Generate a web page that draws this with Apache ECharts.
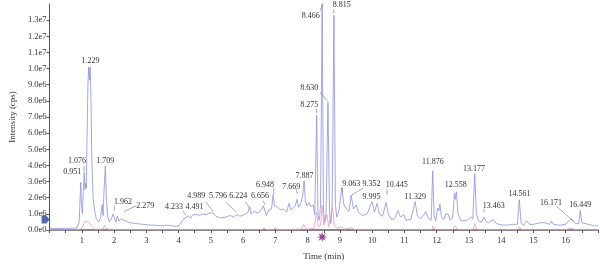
<!DOCTYPE html>
<html>
<head>
<meta charset="utf-8">
<script src="https://cdn.jsdelivr.net/npm/echarts@6/dist/echarts.min.js"></script>
<style>
  html, body { margin: 0; padding: 0; background: #fff; }
  #chart { width: 600px; height: 266px; }
</style>
</head>
<body>
<div id="chart"></div>
<script>
// Blue trace (TIC), time in min, intensity in 1e6 cps
const blueTime = [0, 0.5, 0.85, 0.92, 0.966, 0.99, 1.02, 1.045, 1.076, 1.1, 1.12, 1.14, 1.16, 1.19, 1.21, 1.235, 1.26, 1.285, 1.31, 1.35, 1.4, 1.45, 1.52, 1.58, 1.63, 1.66, 1.69, 1.73, 1.76, 1.8, 1.85, 1.92, 1.97, 2.0, 2.05, 2.1, 2.15, 2.23, 2.3, 2.5, 2.75, 3.0, 3.15, 3.2, 3.25, 3.5, 3.65, 3.7, 3.95, 4.05, 4.12, 4.2, 4.25, 4.3, 4.38, 4.45, 4.5, 4.58, 4.65, 4.75, 4.85, 4.95, 5.0, 5.07, 5.15, 5.3, 5.45, 5.6, 5.7, 5.8, 5.9, 6.05, 6.15, 6.2, 6.25, 6.35, 6.45, 6.55, 6.62, 6.66, 6.72, 6.8, 6.88, 6.93, 6.97, 7.05, 7.15, 7.25, 7.35, 7.42, 7.48, 7.55, 7.62, 7.67, 7.72, 7.8, 7.85, 7.89, 7.93, 7.98, 8.05, 8.1, 8.17, 8.22, 8.28, 8.32, 8.36, 8.4, 8.45, 8.49, 8.53, 8.57, 8.63, 8.68, 8.72, 8.76, 8.815, 8.86, 8.9, 8.97, 9.06, 9.12, 9.2, 9.28, 9.35, 9.42, 9.5, 9.58, 9.7, 9.85, 9.95, 10.0, 10.07, 10.15, 10.22, 10.32, 10.43, 10.5, 10.6, 10.7, 10.8, 10.88, 10.98, 11.05, 11.2, 11.33, 11.4, 11.5, 11.6, 11.66, 11.75, 11.83, 11.876, 11.92, 11.97, 12.03, 12.07, 12.1, 12.15, 12.22, 12.28, 12.35, 12.42, 12.5, 12.55, 12.58, 12.61, 12.66, 12.75, 12.85, 12.95, 13.05, 13.12, 13.18, 13.23, 13.3, 13.4, 13.46, 13.52, 13.6, 13.75, 13.85, 14.0, 14.2, 14.35, 14.5, 14.56, 14.62, 14.7, 14.8, 14.88, 15.0, 15.2, 15.35, 15.5, 15.56, 15.62, 15.8, 16.0, 16.1, 16.2, 16.3, 16.4, 16.45, 16.5, 16.7, 16.9, 17.0];
const blueValue = [0.1, 0.1, 0.12, 0.5, 2.95, 1.6, 1.0, 2.4, 3.55, 2.5, 2.9, 2.6, 5.5, 9.0, 10.1, 9.3, 10.1, 8.0, 4.5, 2.0, 1.15, 0.7, 0.5, 0.7, 1.57, 0.9, 2.5, 3.97, 2.0, 0.9, 0.5, 0.7, 1.0, 0.95, 0.5, 0.85, 0.55, 0.7, 0.6, 0.45, 0.38, 0.33, 0.3, 0.4, 0.3, 0.26, 0.3, 0.25, 0.22, 0.35, 0.6, 0.75, 0.65, 0.85, 0.75, 0.95, 0.85, 0.95, 0.9, 1.0, 0.95, 1.05, 0.95, 1.05, 0.85, 0.75, 0.8, 0.9, 0.8, 0.95, 0.85, 0.95, 1.1, 1.45, 1.0, 1.15, 1.05, 1.2, 1.5, 1.3, 0.9, 1.25, 1.3, 2.2, 1.5, 1.45, 1.25, 1.3, 1.1, 1.65, 1.25, 1.35, 1.5, 1.9, 1.4, 1.7, 2.2, 3.05, 1.8, 1.5, 1.7, 1.45, 1.55, 0.95, 7.1, 0.9, 0.6, 1.5, 14.0, 1.2, 0.5, 1.0, 7.9, 1.0, 0.4, 1.5, 13.3, 1.6, 0.8, 1.2, 2.65, 1.6, 1.3, 1.15, 2.17, 1.3, 1.55, 1.1, 0.9, 1.0, 1.55, 1.75, 1.1, 1.65, 1.0, 0.85, 1.7, 1.0, 0.65, 0.7, 1.2, 0.8, 0.95, 0.6, 0.65, 1.75, 0.9, 0.7, 0.95, 1.15, 0.7, 0.6, 3.67, 0.9, 0.55, 1.35, 1.2, 1.6, 0.8, 0.65, 1.0, 1.0, 0.6, 0.8, 2.27, 1.9, 2.37, 1.0, 0.56, 0.6, 0.6, 0.8, 0.7, 3.47, 1.0, 0.55, 0.5, 0.8, 0.55, 0.45, 0.66, 0.4, 0.32, 0.3, 0.35, 0.35, 1.87, 0.4, 0.3, 0.56, 0.35, 0.35, 0.45, 0.45, 0.35, 0.55, 0.35, 0.3, 0.35, 0.6, 0.66, 0.4, 0.4, 1.2, 0.45, 0.35, 0.25, 0.25];

// Pink trace
const pinkTime = [0, 0.9, 1.0, 1.1, 1.15, 1.2, 1.25, 1.32, 1.4, 1.65, 1.7, 1.75, 1.85, 6.6, 6.65, 6.7, 6.95, 7.0, 7.05, 7.8, 7.88, 7.95, 8.2, 8.28, 8.33, 8.4, 8.45, 8.5, 8.55, 8.6, 8.65, 8.7, 8.77, 8.83, 8.9, 9.06, 9.15, 9.35, 9.45, 11.85, 11.88, 11.95, 12.5, 12.57, 12.65, 13.12, 13.18, 13.25, 14.5, 14.56, 14.62, 16.0, 16.15, 16.3, 17.0];
const pinkValue = [0.02, 0.02, 0.1, 0.55, 0.6, 0.5, 0.6, 0.2, 0.05, 0.05, 0.3, 0.1, 0.02, 0.02, 0.15, 0.02, 0.02, 0.15, 0.02, 0.05, 0.35, 0.05, 0.1, 1.1, 0.2, 0.3, 1.55, 0.3, 0.2, 0.95, 0.2, 0.3, 1.4, 0.3, 0.1, 0.2, 0.05, 0.15, 0.02, 0.02, 0.25, 0.02, 0.02, 0.25, 0.02, 0.02, 0.4, 0.02, 0.02, 0.2, 0.02, 0.02, 0.12, 0.02, 0.02];

// Peak annotations: text, label centre (time, 1e6), leader line [t1, v1, t2, v2] or null
const peakText = ['0.951', '1.076', '1.229', '1.709', '1.962', '2.279', '4.233', '4.491', '4.989', '5.796', '6.224', '6.656', '6.948', '7.669', '7.887', '8.275', '8.466', '8.630', '8.815', '9.063', '9.352', '9.995', '10.445', '11.329', '11.876', '12.558', '13.177', '13.463', '14.561', '16.171', '16.449'];
const labelTime = [0.70, 0.85, 1.27, 1.73, 2.28, 2.97, 3.86, 4.49, 4.55, 5.22, 5.85, 6.52, 6.68, 7.49, 7.90, 8.05, 8.10, 8.05, 9.06, 9.35, 9.98, 9.98, 10.76, 11.33, 11.88, 12.59, 13.16, 13.77, 14.57, 15.54, 16.45];
const labelValue = [3.61, 4.28, 10.48, 4.28, 1.75, 1.51, 1.40, 1.46, 2.11, 2.11, 2.11, 2.13, 2.81, 2.67, 3.37, 7.77, 13.25, 8.80, 13.92, 2.83, 2.83, 2.03, 2.77, 2.07, 4.23, 2.81, 3.81, 1.51, 2.21, 1.70, 1.57];
const leaders = [
  null, [1.07, 3.98, 1.07, 3.61], null, null,
  [2.01, 1.51, 2.01, 1.2], [2.31, 1.13, 2.69, 1.51], [4.12, 1.2, 4.24, 0.9], null,
  [4.85, 1.73, 5.07, 1.13], [5.46, 1.73, 5.81, 1.07], [6.07, 1.75, 6.22, 1.33], [6.62, 1.81, 6.68, 1.57],
  [6.95, 2.59, 6.95, 2.23], [7.65, 2.53, 7.68, 2.23], null, [8.28, 7.53, 8.28, 7.23],
  [8.38, 13.57, 8.48, 14.02], [8.38, 8.55, 8.63, 7.95], [8.81, 13.67, 8.81, 13.43], [9.08, 2.59, 9.08, 2.35],
  [9.73, 2.61, 9.37, 2.17], null, [10.46, 2.53, 10.46, 2.17], null,
  null, null, null, [13.47, 1.33, 13.47, 1.08],
  null, [15.72, 1.46, 16.25, 0.52], null
];

const M = 1e6;
const blueData = blueTime.map((t, i) => [t, blueValue[i] * M]);
const pinkData = pinkTime.map((t, i) => [t, pinkValue[i] * M]);
const labelData = labelTime.map((t, i) => [t, labelValue[i] * M, i]);

// 8-armed asterisk path for the marker under the axis
let star = '';
for (let k = 0; k < 16; k++) {
  const r = k % 2 === 0 ? 10 : 4;
  const a = (k * Math.PI) / 8 - Math.PI / 2;
  star += (k === 0 ? 'M' : 'L') + (r * Math.cos(a)).toFixed(2) + ' ' + (r * Math.sin(a)).toFixed(2) + ' ';
}
star += 'Z';

const font = '"Liberation Serif", "DejaVu Serif", serif';
const chart = echarts.init(document.getElementById('chart'));

const option = {
  animation: false,
  backgroundColor: '#fff',
  grid: { left: 41, right: 2, top: 4, bottom: 30 },
  xAxis: {
    type: 'value',
    min: 0,
    max: 17,
    interval: 1,
    name: 'Time (min)',
    nameLocation: 'middle',
    nameGap: 22,
    nameTextStyle: { fontFamily: font, fontSize: 9, color: '#333' },
    axisLine: { lineStyle: { color: '#6a5866', width: 1.5 } },
    axisTick: { length: 3, lineStyle: { color: '#555' } },
    minorTick: { show: true, splitNumber: 2, length: 3, lineStyle: { color: '#555' } },
    axisLabel: { showMinLabel: false, showMaxLabel: false, margin: 6, fontFamily: font, fontSize: 8.5, color: '#333' },
    splitLine: { show: false }
  },
  yAxis: {
    type: 'value',
    min: 0,
    max: 14 * M,
    interval: M,
    name: 'Intensity (cps)',
    nameLocation: 'middle',
    nameGap: 32,
    nameTextStyle: { fontFamily: font, fontSize: 9, color: '#333' },
    axisLine: { show: true, lineStyle: { color: '#555' } },
    axisTick: { show: true, length: 3, lineStyle: { color: '#555' } },
    axisLabel: {
      showMaxLabel: false,
      margin: 3,
      fontFamily: font,
      fontSize: 8.5,
      color: '#333',
      formatter: (v) => {
        if (v === 0) return '0.0e0';
        const e = Math.floor(Math.log10(v) + 1e-9);
        return (v / Math.pow(10, e)).toFixed(1) + 'e' + e;
      }
    },
    splitLine: { show: false }
  },
  series: [
    {
      name: 'TIC',
      type: 'line',
      data: blueData,
      showSymbol: false,
      lineStyle: { color: '#8c90e0', width: 0.8 },
      z: 2
    },
    {
      name: 'pink',
      type: 'line',
      data: pinkData,
      showSymbol: false,
      lineStyle: { color: '#ee9ab5', width: 0.8 },
      z: 3
    },
    {
      name: 'labels',
      type: 'custom',
      clip: false,
      data: labelData,
      z: 5,
      renderItem: (params, api) => {
        const i = api.value(2);
        const p = api.coord([api.value(0), api.value(1)]);
        const children = [{
          type: 'text',
          x: p[0],
          y: p[1],
          style: {
            text: peakText[i],
            fill: '#333',
            font: '8px ' + font,
            align: 'center',
            verticalAlign: 'middle'
          }
        }];
        const l = leaders[i];
        if (l) {
          const a = api.coord([l[0], l[1] * M]);
          const b = api.coord([l[2], l[3] * M]);
          children.push({
            type: 'line',
            shape: { x1: a[0], y1: a[1], x2: b[0], y2: b[1] },
            style: { stroke: '#888', lineWidth: 0.7 }
          });
        }
        return { type: 'group', children };
      }
    },
    {
      name: 'marker',
      type: 'scatter',
      clip: false,
      silent: true,
      data: [[0, 0.65 * M]],
      symbol: 'path://M0 0 L6 0 L10 4 L6 8 L0 8 Z',
      symbolSize: [8, 8],
      symbolOffset: [-4, 0],
      itemStyle: { color: '#27479a' },
      z: 6
    },
    {
      name: 'star',
      type: 'scatter',
      clip: false,
      silent: true,
      data: [[8.45, 0]],
      symbol: 'path://' + star,
      symbolSize: 11,
      symbolOffset: [0, 7],
      itemStyle: { color: '#7d1f80' },
      z: 6
    }
  ]
};

chart.setOption(option);
</script>
</body>
</html>
